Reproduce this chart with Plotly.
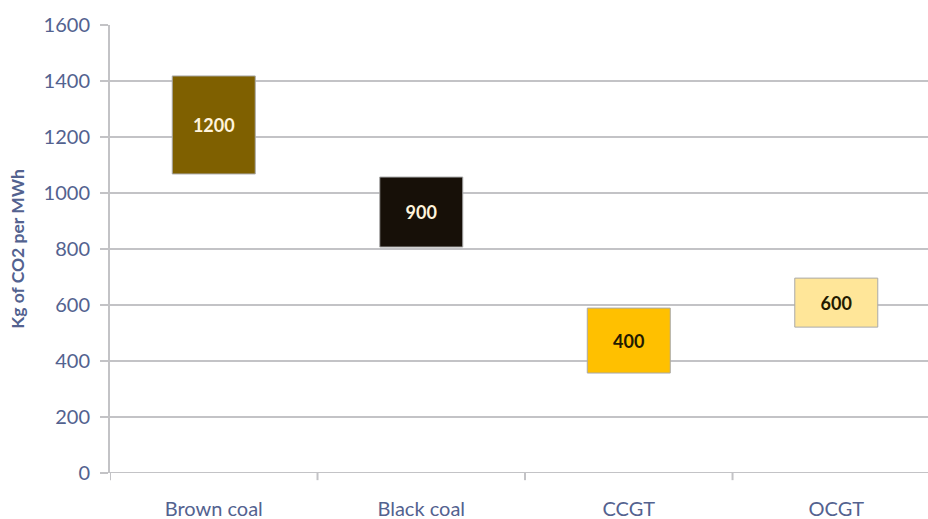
import plotly.graph_objects as go

# Emission ranges by generation technology (kg CO2 per MWh)
technologies = ["Brown coal", "Black coal", "CCGT", "OCGT"]
range_low = [1068, 807, 357, 521]
range_high = [1418, 1057, 589, 696]
typical_value = [1200, 900, 400, 600]
bar_colors = ["#7f6000", "#171008", "#ffc000", "#ffe699"]
label_colors = ["#fff4dc", "#fff4dc", "#231a00", "#231a00"]
y_ticks = [0, 200, 400, 600, 800, 1000, 1200, 1400, 1600]

axis_text = "#53628f"
grid_color = "#c3c3c6"

fig = go.Figure(
    go.Bar(
        x=technologies,
        y=[h - l for l, h in zip(range_low, range_high)],
        base=range_low,
        width=0.4,
        marker=dict(color=bar_colors, line=dict(color="#a9a9a9", width=1)),
        text=[str(v) for v in typical_value],
        textposition="inside",
        insidetextanchor="middle",
        textfont=dict(family="Lato", size=18, color=label_colors, weight="bold"),
        hoverinfo="skip",
    )
)

fig.update_layout(
    width=928,
    height=519,
    margin=dict(l=110, r=0, t=25, b=46),
    paper_bgcolor="white",
    plot_bgcolor="white",
    showlegend=False,
    font=dict(family="Lato", color=axis_text),
)

fig.update_xaxes(
    range=[-0.5, 3.442],
    automargin=False,
    showgrid=False,
    showline=False,
    zeroline=False,
    ticks="",
    tickfont=dict(family="Lato", size=20, color=axis_text),
    ticklabelstandoff=22,
)

fig.update_yaxes(
    range=[0, 1600],
    automargin=False,
    tickvals=y_ticks,
    showgrid=True,
    gridcolor=grid_color,
    gridwidth=2,
    zeroline=False,
    showline=True,
    linecolor=grid_color,
    linewidth=2,
    ticks="outside",
    ticklen=8,
    tickcolor=grid_color,
    tickwidth=2,
    tickfont=dict(family="Lato", size=20, color=axis_text),
    ticklabelstandoff=6,
    title=dict(
        text="Kg of CO2 per MWh",
        font=dict(family="Lato", size=17.5, color=axis_text, weight="bold"),
        standoff=14,
    ),
)

# Baseline and category separators below the plot area
fig.add_shape(type="line", xref="paper", yref="y", x0=-0.01, x1=1, y0=0, y1=0,
              line=dict(color=grid_color, width=2))
for sep in [-0.5, 0.5, 1.5, 2.5]:
    fig.add_shape(type="line", xref="x", yref="paper", x0=sep, x1=sep, y0=0, y1=-0.016,
                  line=dict(color=grid_color, width=2))

fig.write_html("out.html")
